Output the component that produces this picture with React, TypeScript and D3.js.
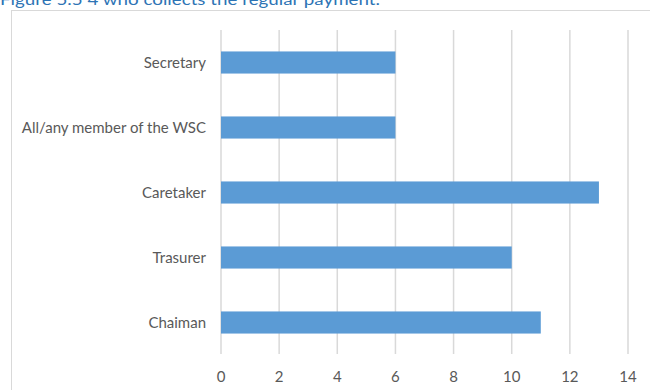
import React from "react";
import * as d3 from "d3";

const title = "Figure 5.5 4 who collects the regular payment.";
const categories = ["Secretary", "All/any member of the WSC", "Caretaker", "Trasurer", "Chaiman "];
const values = [6, 6, 13, 10, 11];
const ticks = [0, 2, 4, 6, 8, 10, 12, 14];

export default function App() {
  const W = 650, H = 390;
  const x = d3.scaleLinear().domain([0, 14]).range([221, 628]);
  const y = d3.scaleBand<string>().domain(categories).range([30, 355]).paddingInner(0.66).paddingOuter(0.33);
  const font = "Lato, 'Open Sans', sans-serif";
  return (
    <svg width={W} height={H} style={{ position: "fixed", left: 0, top: 0, background: "#fff" }}>
      <rect x={11.5} y={10.5} width={700} height={500} fill="#fff" stroke="#d9d9d9" strokeWidth={1} />
      <text x={0} y={5} fontFamily={font} fontSize={16} fill="#2E74B5" textLength={380} lengthAdjust="spacingAndGlyphs">{title}</text>
      {ticks.map((t) => (
        <line key={"g" + t} x1={x(t)} x2={x(t)} y1={30} y2={354} stroke="#d9d9d9" strokeWidth={1.5} />
      ))}
      {categories.map((c, i) => (
        <rect key={c} x={x(0)} y={y(c)!} width={x(values[i]) - x(0)} height={y.bandwidth()} fill="#5B9BD5" />
      ))}
      {categories.map((c) => (
        <text key={"l" + c} x={206} y={y(c)! + y.bandwidth() / 2} dy="0.35em" textAnchor="end" fontFamily={font} fontSize={15} fill="#595959">{c}</text>
      ))}
      {ticks.map((t) => (
        <text key={"t" + t} x={x(t)} y={377} dy="0.35em" textAnchor="middle" fontFamily={font} fontSize={15} fill="#595959">{t}</text>
      ))}
    </svg>
  );
}
